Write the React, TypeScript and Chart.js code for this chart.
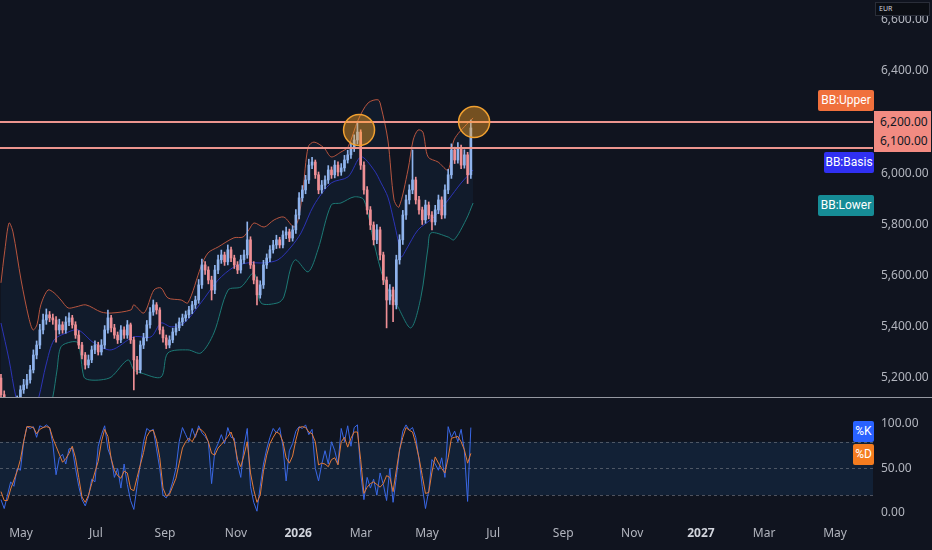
import React, { useEffect, useRef } from "react";
import { Chart, registerables } from "chart.js";
Chart.register(...registerables);

// ---------- DATA ----------
// x unit = one candle (2 sessions); candle i sits at x = i
const OPEN = [5200,5135,5080,5020,4990,5050,5110,5154,5173,5193,
 5232,5290,5329,5388,5427,5447,5435,5427,5388,5408,
 5388,5419,5435,5408,5368,5329,5290,5251,5271,5310,
 5329,5302,5329,5388,5435,5396,5368,5349,5388,5368,
 5408,5349,5271,5232,5329,5357,5408,5458,5486,5466,
 5388,5357,5329,5349,5380,5396,5419,5435,5447,5466,
 5486,5505,5564,5642,5622,5583,5544,5622,5662,5681,
 5654,5701,5669,5642,5622,5662,5681,5740,5642,5583,
 5525,5564,5642,5669,5701,5720,5740,5720,5759,5771,
 5747,5779,5837,5904,5935,5974,6032,6044,5994,5935,
 5954,5974,6013,5994,6032,6005,6021,6052,6072,6099,
 6130,6161,6032,5935,5857,5798,5740,5779,5681,5583,
 5505,5544,5486,5662,5740,5837,5896,5935,5974,5896,
 5857,5818,5876,5837,5810,5857,5896,5837,5935,5994,
 6091,6052,6099,6032,6072,5994];
const HIGH = [5215,5150,5095,5040,5070,5130,5170,5195,5215,5250,
 5310,5345,5410,5450,5470,5460,5450,5440,5430,5420,
 5440,5455,5445,5420,5385,5340,5300,5290,5325,5345,
 5340,5350,5405,5466,5445,5410,5380,5405,5400,5425,
 5415,5360,5285,5345,5375,5425,5475,5505,5495,5475,
 5400,5368,5365,5395,5412,5435,5450,5462,5480,5500,
 5520,5585,5665,5655,5635,5598,5640,5680,5700,5692,
 5720,5712,5680,5655,5680,5700,5810,5752,5655,5595,
 5580,5660,5685,5718,5738,5758,5750,5775,5790,5782,
 5795,5858,5925,5952,5992,6055,6062,6052,6005,5972,
 5990,6030,6025,6050,6045,6038,6070,6090,6118,6150,
 6197,6170,6045,5948,5870,5810,5800,5790,5692,5595,
 5565,5555,5680,5760,5855,5915,5955,6091,5985,5910,
 5868,5895,5888,5850,5875,5915,5908,5955,6015,6115,
 6102,6120,6110,6092,6082,6208];
const LOW = [5115,5060,5000,4970,4975,5035,5095,5140,5160,5180,
 5220,5275,5315,5372,5410,5420,5410,5340,5372,5375,
 5375,5405,5395,5355,5315,5275,5235,5240,5260,5295,
 5290,5290,5315,5375,5380,5355,5335,5338,5355,5355,
 5335,5154,5215,5220,5315,5345,5395,5445,5450,5372,
 5340,5315,5318,5338,5368,5385,5405,5422,5435,5452,
 5472,5492,5550,5605,5568,5505,5530,5608,5648,5640,
 5642,5655,5628,5608,5610,5648,5668,5628,5568,5486,
 5512,5550,5628,5655,5688,5706,5708,5708,5745,5733,
 5735,5765,5822,5890,5920,5960,6018,5980,5920,5922,
 5940,5960,5980,5982,5990,5992,6008,6040,6058,6085,
 6115,6015,5918,5840,5780,5720,5725,5662,5565,5396,
 5488,5420,5470,5645,5722,5820,5880,5920,5880,5840,
 5800,5805,5822,5779,5798,5842,5822,5825,5920,5980,
 6038,6040,6018,6020,5960,5980];
const CLOSE = [5135,5080,5020,4990,5050,5110,5154,5173,5193,5232,
 5290,5329,5388,5427,5447,5435,5427,5388,5408,5388,
 5419,5435,5408,5368,5329,5290,5251,5271,5310,5329,
 5302,5329,5388,5435,5396,5368,5349,5388,5368,5408,
 5349,5271,5232,5329,5357,5408,5458,5486,5466,5388,
 5357,5329,5349,5380,5396,5419,5435,5447,5466,5486,
 5505,5564,5642,5622,5583,5544,5622,5662,5681,5654,
 5701,5669,5642,5622,5662,5681,5740,5642,5583,5525,
 5564,5642,5669,5701,5720,5740,5720,5759,5771,5747,
 5779,5837,5904,5935,5974,6032,6044,5994,5935,5954,
 5974,6013,5994,6032,6005,6021,6052,6072,6099,6130,
 6161,6032,5935,5857,5798,5740,5779,5681,5583,5505,
 5544,5486,5662,5740,5837,5896,5935,5974,5896,5857,
 5818,5876,5837,5810,5857,5896,5837,5935,5994,6091,
 6052,6099,6032,6072,5994,6177];

const UPPER_X = [0,1.2,2.5,3.7,6.2,8.6,9.9,11.1,12.3,14.5,16.4,18.5,20.7,23.1,26.2,30.9,34,40.1,41,44.1,47.2,49.4,51.5,55.6,57.7,61.7,63.9,67,71.9,74.7,76.5,78.1,81.2,84.3,87.3,90.4,91.7,93.2,94.8,96.6,99.7,101.9,104.9,107.1,110.2,113.3,116.4,117.3,119.4,121.3,122.8,125.6,127.2,128.7,130.2,131.8,134.9,138,139.8,144.1,145.7];
const UPPER = [5572,5700,5806,5771,5583,5435,5388,5408,5486,5544,5533,5505,5474,5478,5486,5458,5454,5466,5486,5454,5544,5552,5513,5505,5494,5634,5689,5712,5748,5751,5779,5806,5790,5818,5829,5790,5818,5935,6103,6122,6099,6064,6083,6103,6208,6275,6287,6259,6130,5896,5868,6013,6130,6169,6161,6064,6044,6013,6130,6197,6216];
const BASIS_X = [0,2.5,4.6,6.2,9.3,11.7,13.9,16.4,20.1,23.8,28.7,34,41,46.3,49.4,52.5,56.5,61.7,67,71.9,76.2,81.2,85.5,89.5,92.6,96.6,101.9,107.1,111.1,115.1,117.3,119.4,121.3,122.5,123.5,125,128.7,133.6,138,142,145.7];
const BASIS = [5415,5271,5126,5076,5037,5126,5251,5349,5376,5388,5337,5310,5361,5361,5415,5400,5415,5494,5583,5634,5650,5650,5662,5712,5767,5876,5962,5986,6064,6013,5962,5907,5810,5740,5673,5701,5779,5829,5896,5962,6013];
const LOWER_X = [0,4.6,9.9,13.9,16,17.3,18.5,21.6,23.8,25.6,27.2,30.9,34,39.2,41,43.2,49.4,51.5,57.7,61.7,65.7,70.1,74.1,78.1,80.2,85.5,87.3,89.5,91,94.8,97.8,101.9,104.9,109,112,115.1,118.2,122.5,126.5,129.6,131.8,132.7,138,139.8,143.5,145.7];
const LOWER = [4990,4760,4860,5020,5126,5232,5322,5341,5337,5204,5193,5193,5204,5271,5232,5220,5204,5298,5310,5298,5376,5544,5556,5611,5494,5494,5517,5634,5662,5615,5701,5876,5884,5908,5896,5728,5583,5478,5396,5517,5712,5767,5751,5740,5818,5884];

const STOCH_K = [15,5,20,35,30,50,48,80,97,95,
 97,85,98,96,99,96,78,43,62,66,
 55,72,73,50,30,15,8,18,38,35,
 75,88,98,72,62,40,50,28,55,32,
 14,4,30,55,80,95,92,94,72,50,
 20,17,23,35,50,80,96,88,80,95,
 85,98,90,86,80,33,70,78,88,78,
 96,85,84,55,40,75,95,30,12,2,
 30,55,72,85,95,90,96,75,36,70,
 78,92,97,95,99,88,94,50,36,55,
 70,55,80,70,55,95,80,98,75,96,
 99,45,15,40,28,38,20,45,32,14,
 50,12,40,70,92,99,93,96,85,60,
 30,5,25,60,55,48,62,40,97,85,
 92,80,94,70,13,96];
const STOCH_D = [24,14,14,27,37,47,60,80,97,97,
 96,89,94,96,97,96,84,75,66,57,
 61,67,75,62,40,18,12,20,33,46,
 58,80,94,86,61,48,42,39,47,45,
 27,25,40,54,68,86,92,93,82,62,
 28,19,21,30,39,56,73,80,84,80,
 87,95,93,89,80,67,65,73,77,81,
 86,91,80,60,52,65,80,45,26,12,
 20,47,65,78,85,91,89,80,62,56,
 64,82,96,97,96,91,89,80,54,56,
 55,52,60,62,54,80,85,74,84,91,
 91,60,22,29,33,35,32,29,33,42,
 40,24,48,71,85,96,93,91,78,62,
 42,22,23,46,63,56,50,45,62,84,
 85,86,80,71,56,67];

const MONTH_TICKS = [6.2, 29.3, 50.6, 72.5, 91.7, 111.1, 131.5, 151.9, 173.5, 194.8, 216, 235.5, 257.4];
const MONTH_LABELS = ["May", "Jul", "Sep", "Nov", "2026", "Mar", "May", "Jul", "Sep", "Nov", "2027", "Mar", "May"];
const PRICE_TICKS = [5200, 5400, 5600, 5800, 6000, 6200, 6400, 6600];
const STOCH_TICKS = [0, 50, 100];
const STOCH_LEVELS = [80, 50, 20];
const H_LINES = [6200, 6100];
const MARKERS = [{ x: 110.5, y: 6169 }, { x: 146, y: 6200 }];

// ---------- STYLE ----------
const BG = "#10141f";
const FONT = '"Noto Sans", "DejaVu Sans", sans-serif';
const TAG_FONT = 'Roboto, "Noto Sans", sans-serif';
const AXIS_TXT = "#b2b5be";
const UP = "#8fb3ec";
const DOWN = "#ee8f95";
const X_MIN = -0.3;
const X_MAX = 269.1;

const fmt = (v: number) =>
  v.toLocaleString("en-US", { minimumFractionDigits: 2, maximumFractionDigits: 2 });

const fitY = (s: any) => {
  s.width = 59;
  s.paddingTop = 0;
  s.paddingBottom = 0;
};

const overlayPlugin = {
  id: "overlay",
  afterDatasetsDraw(chart: any) {
    const { ctx, chartArea, scales } = chart;
    const x = scales.x, y = scales.y;
    ctx.save();
    ctx.strokeStyle = "#ec958e";
    ctx.lineWidth = 2;
    H_LINES.forEach((v) => {
      const py = Math.round(y.getPixelForValue(v));
      ctx.beginPath();
      ctx.moveTo(chartArea.left, py);
      ctx.lineTo(chartArea.right, py);
      ctx.stroke();
    });
    MARKERS.forEach((m) => {
      ctx.beginPath();
      ctx.arc(x.getPixelForValue(m.x), y.getPixelForValue(m.y), 15.5, 0, Math.PI * 2);
      ctx.fillStyle = "rgba(255,165,35,0.42)";
      ctx.fill();
      ctx.strokeStyle = "#f0a030";
      ctx.lineWidth = 1.5;
      ctx.stroke();
    });
    ctx.restore();
  },
};

const stochBgPlugin = {
  id: "stochBg",
  beforeDatasetsDraw(chart: any) {
    const { ctx, chartArea, scales } = chart;
    const y = scales.y;
    const top = y.getPixelForValue(STOCH_LEVELS[0]);
    const bot = y.getPixelForValue(STOCH_LEVELS[2]);
    ctx.save();
    ctx.fillStyle = "rgba(33,150,243,0.11)";
    ctx.fillRect(chartArea.left, top, chartArea.right - chartArea.left, bot - top);
    ctx.setLineDash([3, 3]);
    ctx.strokeStyle = "rgba(120,123,134,0.6)";
    ctx.lineWidth = 1;
    STOCH_LEVELS.forEach((v) => {
      const py = Math.round(y.getPixelForValue(v)) + 0.5;
      ctx.beginPath();
      ctx.moveTo(chartArea.left, py);
      ctx.lineTo(chartArea.right, py);
      ctx.stroke();
    });
    ctx.restore();
  },
};

export default function App() {
  const topRef = useRef<HTMLCanvasElement>(null);
  const botRef = useRef<HTMLCanvasElement>(null);

  useEffect(() => {
    const idx = CLOSE.map((_, i) => i);
    const colors = idx.map((i) => (CLOSE[i] >= OPEN[i] ? UP : DOWN));
    const pts = (xs: number[], ys: number[]) => xs.map((x, i) => ({ x, y: ys[i] }));

    const top = new Chart(topRef.current as HTMLCanvasElement, {
      type: "bar",
      data: {
        datasets: [
          {
            type: "line",
            label: "Upper",
            data: pts(UPPER_X, UPPER),
            borderColor: "#b8553f",
            borderWidth: 1,
            pointRadius: 0,
            tension: 0.3,
            fill: false,
            order: 2,
          } as any,
          {
            type: "line",
            label: "Lower",
            data: pts(LOWER_X, LOWER),
            borderColor: "#1d7a76",
            borderWidth: 1,
            pointRadius: 0,
            tension: 0.3,
            fill: 0,
            backgroundColor: "rgba(33,150,243,0.06)",
            order: 2,
          } as any,
          {
            type: "line",
            label: "Basis",
            data: pts(BASIS_X, BASIS),
            borderColor: "#2e2eb4",
            borderWidth: 1,
            pointRadius: 0,
            tension: 0.3,
            fill: false,
            order: 2,
          } as any,
          {
            type: "bar",
            label: "wick",
            data: idx.map((i) => ({ x: i, y: [LOW[i], HIGH[i]] })),
            backgroundColor: colors,
            barThickness: 1,
            grouped: false,
            order: 1,
          } as any,
          {
            type: "bar",
            label: "body",
            data: idx.map((i) => ({ x: i, y: [OPEN[i], CLOSE[i]] })),
            backgroundColor: colors,
            barThickness: 2,
            grouped: false,
            order: 0,
          } as any,
        ],
      },
      options: {
        animation: false,
        responsive: false,
        events: [],
        layout: { padding: 0 },
        plugins: { legend: { display: false }, tooltip: { enabled: false } },
        scales: {
          x: { type: "linear", min: X_MIN, max: X_MAX, display: false, offset: false },
          y: {
            position: "right",
            min: 5126,
            max: 6677,
            afterFit: fitY,
            afterBuildTicks: (s: any) => { s.ticks = PRICE_TICKS.map((v) => ({ value: v })); },
            grid: { display: false, drawTicks: false },
            border: { display: false },
            ticks: { color: AXIS_TXT, padding: 8, font: { family: FONT, size: 12 }, callback: (v: any) => fmt(Number(v)) },
          },
        },
      } as any,
      plugins: [overlayPlugin],
    });

    const bot = new Chart(botRef.current as HTMLCanvasElement, {
      type: "line",
      data: {
        datasets: [
          {
            label: "%K",
            data: idx.map((i) => ({ x: i, y: STOCH_K[i] })),
            borderColor: "#3a68e6",
            borderWidth: 1,
            pointRadius: 0,
            order: 1,
          },
          {
            label: "%D",
            data: idx.map((i) => ({ x: i, y: STOCH_D[i] })),
            borderColor: "#e27a3a",
            borderWidth: 1,
            pointRadius: 0,
            order: 0,
          },
        ],
      },
      options: {
        animation: false,
        responsive: false,
        events: [],
        layout: { padding: 0 },
        plugins: { legend: { display: false }, tooltip: { enabled: false } },
        scales: {
          x: {
            type: "linear",
            min: X_MIN,
            max: X_MAX,
            offset: false,
            afterFit: (s: any) => { s.height = 33; s.paddingLeft = 0; s.paddingRight = 0; },
            afterBuildTicks: (s: any) => { s.ticks = MONTH_TICKS.map((v) => ({ value: v })); },
            grid: { display: false, drawTicks: false },
            border: { display: false },
            ticks: {
              autoSkip: false,
              maxRotation: 0,
              padding: 9,
              color: (c: any) => (/^\d{4}$/.test(MONTH_LABELS[c.index] || "") ? "#d1d4dc" : AXIS_TXT),
              font: (c: any) => ({
                family: FONT,
                size: 12,
                weight: /^\d{4}$/.test(MONTH_LABELS[c.index] || "") ? "bold" : "normal",
              }),
              callback: (_v: any, i: number) => MONTH_LABELS[i],
            },
          },
          y: {
            position: "right",
            min: -4.5,
            max: 129.2,
            afterFit: fitY,
            afterBuildTicks: (s: any) => { s.ticks = STOCH_TICKS.map((v) => ({ value: v })); },
            grid: { display: false, drawTicks: false },
            border: { display: false },
            ticks: { color: AXIS_TXT, padding: 8, font: { family: FONT, size: 12 }, callback: (v: any) => Number(v).toFixed(2) },
          },
        },
      } as any,
      plugins: [stochBgPlugin],
    });

    return () => {
      top.destroy();
      bot.destroy();
    };
  }, []);

  const tag = (text: string, left: number, top: number, w: number, h: number, bg: string) => (
    <div
      style={{
        position: "absolute", left, top, width: w, height: h, background: bg, color: "#ffffff",
        fontFamily: TAG_FONT, fontSize: 12, lineHeight: h + "px", textAlign: "center", borderRadius: 2,
        whiteSpace: "nowrap",
      }}
    >
      {text}
    </div>
  );

  return (
    <div style={{ position: "relative", width: 932, height: 550, background: BG, overflow: "hidden" }}>
      <style>{`body{margin:0;background:${BG};}`}</style>
      <canvas ref={topRef} width={932} height={397} style={{ position: "absolute", left: 0, top: 0 }} />
      <div style={{ position: "absolute", left: 0, top: 397, width: 932, height: 1, background: "#9598a1" }} />
      <canvas ref={botRef} width={932} height={152} style={{ position: "absolute", left: 0, top: 398 }} />

      {tag("BB:Upper", 818, 90, 56, 21, "#f0703c")}
      {tag("BB:Basis", 824, 152, 50, 21, "#3030f2")}
      {tag("BB:Lower", 818, 195, 56, 21, "#168c96")}
      {tag("%K", 853, 421, 21, 21, "#2962ff")}
      {tag("%D", 853, 444, 21, 21, "#f57c1f")}

      <div
        style={{
          position: "absolute", left: 874, top: 111, width: 57, height: 41, background: "#f28b82",
          color: "#131722", fontFamily: FONT, fontSize: 12, lineHeight: "19px", paddingLeft: 6,
          boxSizing: "border-box", paddingTop: 1, whiteSpace: "nowrap",
        }}
      >
        <div>{fmt(H_LINES[0])}</div>
        <div>{fmt(H_LINES[1])}</div>
      </div>

      <div
        style={{
          position: "absolute", left: 875, top: 2, width: 55, height: 14, background: "#0b0e14",
          border: "1px solid #2a2e39", boxSizing: "border-box", color: "#d1d4dc", fontFamily: FONT,
          fontSize: 7, lineHeight: "12px", paddingLeft: 3,
        }}
      >
        EUR
      </div>
    </div>
  );
}
